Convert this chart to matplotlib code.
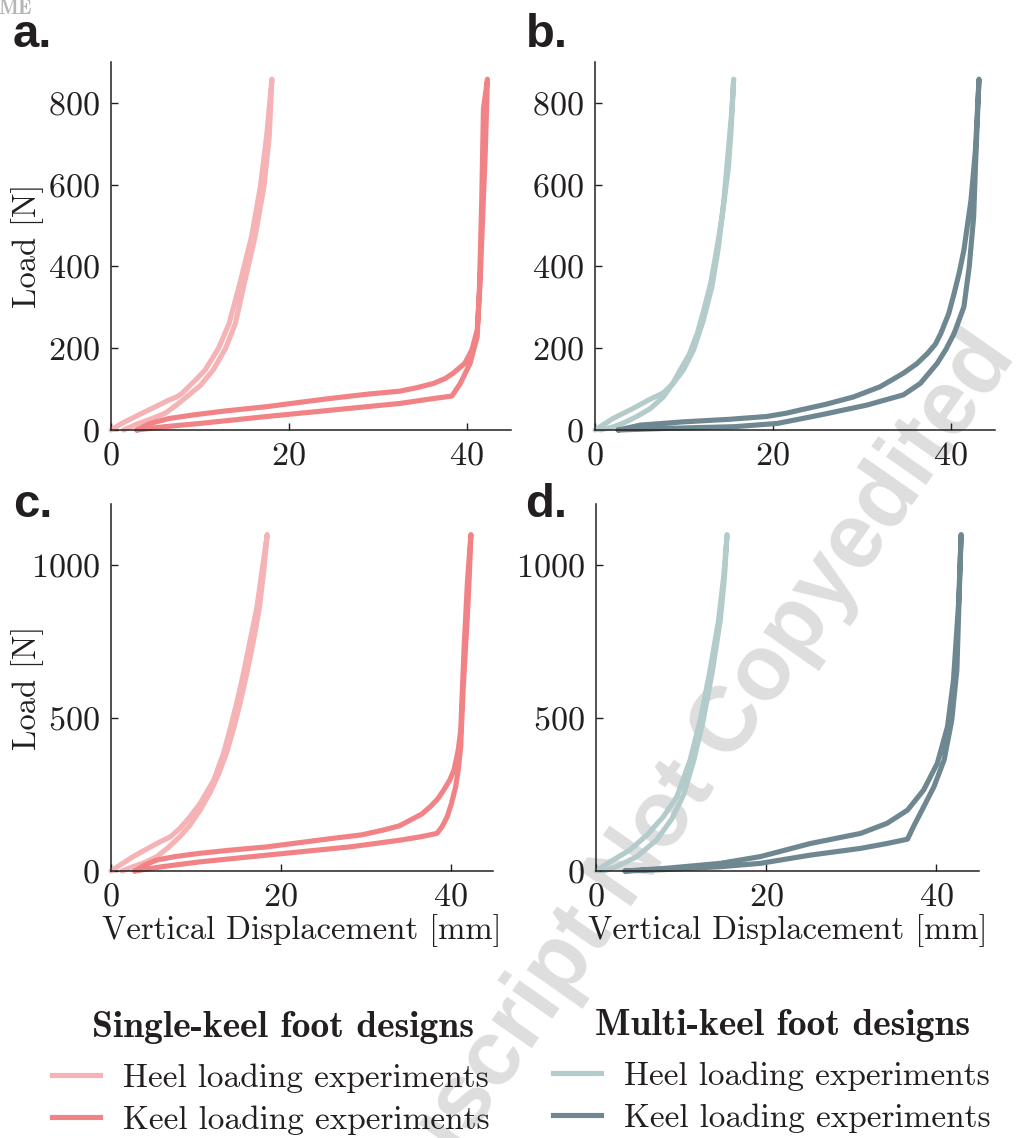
import matplotlib
matplotlib.use("Agg")
import matplotlib.pyplot as plt
from matplotlib.lines import Line2D

plt.rcParams['font.family'] = ['cmr10', 'DejaVu Serif']
plt.rcParams['axes.formatter.use_mathtext'] = True
plt.rcParams['axes.unicode_minus'] = False

# colours
HEEL_SINGLE = '#f5b3b5'
KEEL_SINGLE = '#f18286'
HEEL_MULTI = '#b3cbca'
KEEL_MULTI = '#6e8791'
INK = '#231f20'

# ---- data: displacement [mm], load [N] (loading then unloading)
# a. single-keel, low load
a_heel_x = [0, 1.2, 3.5, 6.5, 7.4, 8.0, 9.5, 10.6, 12.1, 13.3, 14.5, 15.8, 16.8, 17.5, 18.1,
            17.8, 17.2, 16.2, 15.0, 14.0, 12.9, 11.5, 10.1, 8.5, 7.3, 6.1, 4.5, 3.1, 1.4]
a_heel_y = [0, 16, 41, 73, 81, 90, 122, 147, 200, 261, 359, 472, 594, 717, 858,
            717, 594, 472, 359, 261, 200, 147, 110, 81, 60, 41, 27, 16, 0]
a_keel_x = [2.9, 4.4, 6.5, 9.3, 13.0, 17.5, 21.0, 25.0, 29.0, 32.5, 34.5, 36.3, 37.6, 38.5,
            39.8, 40.6, 41.2, 41.5, 41.8, 42.1, 42.35,
            41.9, 41.7, 41.45, 41.2, 40.4, 39.3, 38.35, 36.3, 32.5, 25.0, 17.5, 10.0, 6.0, 2.9]
a_keel_y = [0, 16, 28, 37, 47, 57, 67, 78, 88, 95, 104, 114, 126, 139,
            163, 196, 245, 350, 513, 677, 858,
            785, 554, 350, 228, 163, 114, 83, 77, 65, 49, 33, 16, 8, 0]

# b. multi-keel, low load
b_heel_x = [0, 2.1, 4.3, 6.0, 7.7, 8.8, 9.95, 11.1, 12.2, 13.15, 13.9, 14.5, 15.0, 15.4, 15.6,
            15.3, 15.0, 14.3, 13.6, 13.0, 12.2, 11.5, 10.6, 9.6, 8.7, 7.7, 6.2, 4.7, 3.3, 2.1, 0.6]
b_heel_y = [0, 29, 53, 73, 91, 114, 147, 196, 269, 350, 448, 562, 685, 782, 858,
            730, 640, 522, 430, 358, 290, 236, 185, 147, 112, 81, 52, 33, 18, 8, 0]
b_keel_x = [2.6, 5.1, 10.0, 15.0, 19.3, 21.5, 23.1, 26.0, 29.1, 32.1, 34.7, 36.2, 37.4, 38.3,
            38.9, 39.8, 40.4, 41.0, 41.5, 42.3, 42.8, 43.2,
            42.8, 42.6, 42.1, 41.5, 40.4, 39.5, 38.5, 36.6, 34.7, 30.6, 25.4, 20.5, 15.6, 8.1, 2.6]
b_keel_y = [0, 12, 20, 26, 33, 41, 49, 63, 81, 106, 139, 162, 187, 210,
            236, 285, 334, 387, 440, 562, 685, 858,
            644, 522, 399, 301, 236, 198, 163, 114, 86, 61, 37, 16, 8, 4, 0]

# c. single-keel, high load
c_heel_x = [0, 2.6, 5.4, 7.0, 8.1, 9.3, 10.5, 12.1, 13.25, 14.0, 14.8, 15.6, 16.4, 17.2, 17.8, 18.4,
            18.0, 17.5, 16.8, 16.0, 15.2, 14.4, 13.6, 12.7, 11.7, 10.5, 9.3, 8.1, 6.8, 5.4, 4.0, 2.6, 1.3]
c_heel_y = [0, 47, 90, 112, 139, 177, 221, 297, 385, 461, 548, 646, 755, 864, 984, 1100,
            984, 864, 755, 646, 548, 461, 385, 319, 258, 199, 150, 112, 78, 47, 28, 14, 0]
c_keel_x = [2.8, 4.0, 5.4, 7.5, 10.5, 14.0, 18.4, 22.0, 26.2, 29.5, 32.1, 34.0, 35.3, 36.6,
            37.6, 38.5, 39.2, 39.9, 40.4, 40.9, 41.2, 41.4, 41.6, 42.0, 42.4,
            42.2, 42.0, 41.7, 41.5, 41.3, 41.2, 40.9, 40.6, 40.1, 39.6, 39.0, 38.4, 36.5, 34.1,
            28.2, 18.4, 10.5, 6.0, 2.8]
c_keel_y = [0, 20, 36, 47, 58, 68, 79, 92, 107, 118, 134, 148, 167, 186,
            210, 236, 265, 297, 330, 395, 461, 600, 733, 951, 1100,
            960, 842, 700, 602, 480, 406, 330, 275, 220, 177, 145, 123, 112, 101,
            79, 52, 30, 14, 0]

# d. multi-keel, high load
d_heel_x = [0, 1.65, 4.0, 6.0, 7.9, 9.5, 11.06, 12.24, 13.4, 14.4, 15.0, 15.4,
            15.1, 14.6, 13.7, 12.6, 11.5, 10.3, 8.9, 7.1, 4.8, 2.4, 0.9]
d_heel_y = [0, 30, 69, 118, 177, 243, 363, 493, 657, 820, 962, 1100,
            962, 820, 657, 493, 363, 250, 170, 101, 47, 14, 0]
d_keel_x = [3.4, 8.3, 14.6, 19.3, 25.2, 31.1, 34.2, 36.6, 38.5, 40.1, 41.3, 42.0, 42.6, 42.9,
            42.4, 41.8, 40.9, 39.7, 38.3, 37.3, 36.6, 34.2, 31.1, 25.2, 19.3, 14.6, 8.3, 3.4]
d_keel_y = [0, 9, 25, 47, 90, 123, 156, 199, 265, 352, 472, 624, 875, 1100,
            657, 493, 363, 275, 199, 145, 104, 90, 74, 52, 25, 14, 5, 0]

y_ticks_top = [0, 200, 400, 600, 800]
y_ticks_bottom = [0, 500, 1000]
x_ticks = [0, 20, 40]

W, H = 1016, 1138
fig = plt.figure(figsize=(W / 100, H / 100), dpi=100)


def px_axes(left, top, right, bottom):
    return fig.add_axes([left / W, 1 - bottom / H, (right - left) / W, (bottom - top) / H])


panels = [
    ('a.', 13, 47, (111, 62, 511, 430), a_heel_x, a_heel_y, a_keel_x, a_keel_y,
     HEEL_SINGLE, KEEL_SINGLE, 900, y_ticks_top),
    ('b.', 526, 47, (595, 62, 995, 430), b_heel_x, b_heel_y, b_keel_x, b_keel_y,
     HEEL_MULTI, KEEL_MULTI, 900, y_ticks_top),
    ('c.', 13, 517, (111, 504, 493, 871), c_heel_x, c_heel_y, c_keel_x, c_keel_y,
     HEEL_SINGLE, KEEL_SINGLE, 1200, y_ticks_bottom),
    ('d.', 525, 517, (596, 504, 979, 871), d_heel_x, d_heel_y, d_keel_x, d_keel_y,
     HEEL_MULTI, KEEL_MULTI, 1200, y_ticks_bottom),
]

LW = 3.7
for i, (tag, tx, ty, box, hx, hy, kx, ky, hc, kc, ytop, yt) in enumerate(panels):
    ax = px_axes(*box)
    ax.set_facecolor('none')
    ax.plot(hx, hy, color=hc, lw=LW, solid_capstyle='round', solid_joinstyle='round', clip_on=False)
    ax.plot(kx, ky, color=kc, lw=LW, solid_capstyle='round', solid_joinstyle='round', clip_on=False)
    ax.set_xlim(0, 45)
    ax.set_ylim(0, ytop)
    ax.set_xticks(x_ticks)
    ax.set_yticks(yt)
    for s in ['top', 'right']:
        ax.spines[s].set_visible(False)
    for s in ['left', 'bottom']:
        ax.spines[s].set_linewidth(1.1)
        ax.spines[s].set_color(INK)
    ax.tick_params(direction='in', length=5, width=1.0, labelsize=24.5, colors=INK, pad=8)
    if i % 2 == 0:
        ax.set_ylabel('Load [N]', fontsize=23.5, color=INK)
        # right edge of the rotated label sits ~44 px from the figure edge
        ax.yaxis.set_label_coords((44 - box[0]) / (box[2] - box[0]), 0.5)
    if i >= 2:
        ax.set_xlabel('Vertical Displacement [mm]', fontsize=23.5, color=INK, labelpad=2)
    fig.text(tx / W, 1 - ty / H, tag, fontsize=34, fontweight='bold', color=INK,
             family=['Liberation Sans', 'DejaVu Sans'], va='baseline', ha='left')

# legends
leg_kw = dict(frameon=False, fontsize=24, handlelength=1.44, handletextpad=0.69,
              labelspacing=0.36, borderpad=0, borderaxespad=0, loc='center left')
h1 = [Line2D([], [], color=HEEL_SINGLE, lw=LW), Line2D([], [], color=KEEL_SINGLE, lw=LW)]
h2 = [Line2D([], [], color=HEEL_MULTI, lw=LW), Line2D([], [], color=KEEL_MULTI, lw=LW)]
labels = ['Heel loading experiments', 'Keel loading experiments']
leg1 = fig.legend(h1, labels, bbox_to_anchor=(52 / W, 1 - 1099 / H), **leg_kw)
leg2 = fig.legend(h2, labels, bbox_to_anchor=(553 / W, 1 - 1097 / H), **leg_kw)
for leg in (leg1, leg2):
    for t in leg.get_texts():
        t.set_color(INK)
fig.text(283 / W, 1 - 1027 / H, 'Single-keel foot designs', fontsize=27,
         family=['cmb10', 'DejaVu Serif'], color=INK, ha='center', va='center')
fig.text(783 / W, 1 - 1025 / H, 'Multi-keel foot designs', fontsize=27,
         family=['cmb10', 'DejaVu Serif'], color=INK, ha='center', va='center')

# watermark
fig.text(655 / W, 1 - 830 / H, 'Manuscript Not Copyedited', fontsize=66, fontweight='bold',
         family=['Liberation Sans', 'DejaVu Sans'], color='#dedede', rotation=55,
         ha='center', va='center', zorder=-5)
fig.text(-0.002, 1 - 14 / H, 'ME', fontsize=15, family=['cmb10', 'DejaVu Serif'],
         color='#b5b5b5', va='baseline', ha='left')

fig.savefig('out.png', dpi=100, facecolor='white')
